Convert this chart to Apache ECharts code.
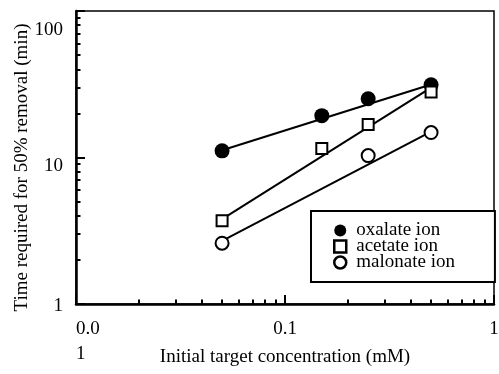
<!DOCTYPE html>
<html>
<head>
<meta charset="utf-8">
<script src="https://cdn.jsdelivr.net/npm/echarts@6/dist/echarts.min.js"></script>
<style>
html, body { margin: 0; padding: 0; background: #fff; }
#chart { width: 499px; height: 374px; }
</style>
</head>
<body>
<div id="chart"></div>
<script>
var conc = [0.05, 0.15, 0.25, 0.5];
var oxalate = [11.1, 19.3, 25.2, 31.4];
var acetate = [3.7, 11.5, 16.8, 28];
var malonateConc = [0.05, 0.25, 0.5];
var malonate = [2.6, 10.3, 14.8];

// straight fit lines (end points)
var fitConc = [0.05, 0.5];
var oxalateFit = [11.2, 31.5];
var acetateFit = [3.8, 30];
var malonateFit = [2.7, 15];

var names = ['oxalate ion', 'acetate ion', 'malonate ion'];

// ticks
var xMajor = [0.01, 0.1, 1];
var xMajorLabels = ['0.0\n1', '0.1', '1'];
var xMinor = [0.02, 0.03, 0.04, 0.05, 0.06, 0.07, 0.08, 0.09, 0.2, 0.3, 0.4, 0.5, 0.6, 0.7, 0.8, 0.9];
var yMajor = [1, 10, 100];
var yMinor = [2, 3, 4, 5, 6, 7, 8, 9, 20, 30, 40, 50, 60, 70, 80, 90];

function pairs(xs, ys) {
    var out = [];
    for (var i = 0; i < xs.length; i++) out.push([xs[i], ys[i]]);
    return out;
}
function near(a, b) { return Math.abs(a - b) < b * 1e-6; }

var font = 'Liberation Serif, Times New Roman, serif';

var myChart = echarts.init(document.getElementById('chart'));
var option = {
    animation: false,
    backgroundColor: '#fff',
    textStyle: { fontFamily: font, color: '#000' },
    grid: {
        left: 76, right: 5, top: 11, bottom: 70,
        outerBoundsMode: 'none', containLabel: false,
        show: true, borderColor: '#000', borderWidth: 1.5, backgroundColor: 'transparent'
    },
    legend: {
        orient: 'vertical',
        left: 311, top: 211,
        padding: [10, 40, 10, 22],
        itemGap: -3,
        itemWidth: 12, itemHeight: 12,
        backgroundColor: '#fff',
        borderColor: '#000', borderWidth: 2,
        borderRadius: 0,
        textStyle: { fontFamily: font, fontSize: 19, color: '#000', padding: [0, 0, 0, 5] },
        data: [
            { name: names[0], icon: 'circle', itemStyle: { color: '#000', borderWidth: 0 } },
            { name: names[1], icon: 'path://M2,2L10,2L10,10L2,10Z', itemStyle: { color: '#fff', borderColor: '#000', borderWidth: 2.5 } },
            { name: names[2], icon: 'circle', itemStyle: { color: '#fff', borderColor: '#000', borderWidth: 2.5 } }
        ]
    },
    xAxis: [{
        type: 'log', logBase: 10, min: 0.01, max: 1,
        name: 'Initial target concentration (mM)',
        nameLocation: 'middle', nameGap: 44, nameMoveOverlap: false,
        nameTextStyle: { fontFamily: font, fontSize: 19, color: '#000' },
        axisLine: { lineStyle: { color: '#000', width: 2.5 } },
        axisTick: { inside: true, length: 9, lineStyle: { color: '#000', width: 2 } },
        splitLine: { show: false },
        axisLabel: {
            fontFamily: font, fontSize: 19, color: '#000', margin: 13, lineHeight: 25,
            alignMinLabel: 'left',
            formatter: function (v) {
                for (var i = 0; i < xMajor.length; i++) if (near(v, xMajor[i])) return xMajorLabels[i];
                return '';
            }
        }
    }, {
        type: 'log', logBase: 10, min: 0.01, max: 1, gridIndex: 0, position: 'bottom',
        axisLine: { show: false },
        axisLabel: { show: false },
        splitLine: { show: false },
        axisTick: { inside: true, length: 4.5, customValues: xMinor, lineStyle: { color: '#000', width: 2 } }
    }],
    yAxis: [{
        type: 'log', logBase: 10, min: 1, max: 100,
        name: 'Time required for 50% removal (min)',
        nameLocation: 'middle', nameGap: 44, nameMoveOverlap: false,
        nameTextStyle: { fontFamily: font, fontSize: 19, color: '#000', padding: [0, 20, 0, 0] },
        axisLine: { lineStyle: { color: '#000', width: 2.5 } },
        axisTick: { inside: true, length: 9, lineStyle: { color: '#000', width: 2 } },
        splitLine: { show: false },
        axisLabel: {
            fontFamily: font, fontSize: 19, color: '#000', margin: 13,
            formatter: function (v) {
                if (near(v, 100)) return '{a|100}';
                if (near(v, 10)) return '{b|10}';
                return '{c|1}';
            },
            rich: {
                a: { fontFamily: font, fontSize: 19, padding: [38, 0, 0, 0] },
                b: { fontFamily: font, fontSize: 19, padding: [18, 0, 0, 0] },
                c: { fontFamily: font, fontSize: 19, padding: [4, 0, 0, 0] }
            }
        }
    }, {
        type: 'log', logBase: 10, min: 1, max: 100, gridIndex: 0, position: 'left', offset: 0,
        axisLine: { show: false },
        axisLabel: { show: false },
        splitLine: { show: false },
        axisTick: { show: true, inside: true, length: 4.5, customValues: yMinor, lineStyle: { color: '#000', width: 2 } }
    }],
    series: [
        { type: 'line', data: pairs(fitConc, oxalateFit), showSymbol: false, symbol: 'none', z: 2,
          lineStyle: { color: '#000', width: 2 }, silent: true },
        { type: 'line', data: pairs(fitConc, acetateFit), showSymbol: false, symbol: 'none', z: 2,
          lineStyle: { color: '#000', width: 2 }, silent: true },
        { type: 'line', data: pairs(fitConc, malonateFit), showSymbol: false, symbol: 'none', z: 2,
          lineStyle: { color: '#000', width: 2 }, silent: true },
        { name: names[0], type: 'scatter', data: pairs(conc, oxalate), symbol: 'circle', symbolSize: 15, z: 5,
          itemStyle: { color: '#000', borderWidth: 0, opacity: 1 } },
        { name: names[1], type: 'scatter', data: pairs(conc, acetate), symbol: 'rect', symbolSize: 11, z: 5,
          itemStyle: { color: '#fff', borderColor: '#000', borderWidth: 2, opacity: 1 } },
        { name: names[2], type: 'scatter', data: pairs(malonateConc, malonate), symbol: 'circle', symbolSize: 13, z: 5,
          itemStyle: { color: '#fff', borderColor: '#000', borderWidth: 2, opacity: 1 } }
    ]
};
myChart.setOption(option);
</script>
</body>
</html>
